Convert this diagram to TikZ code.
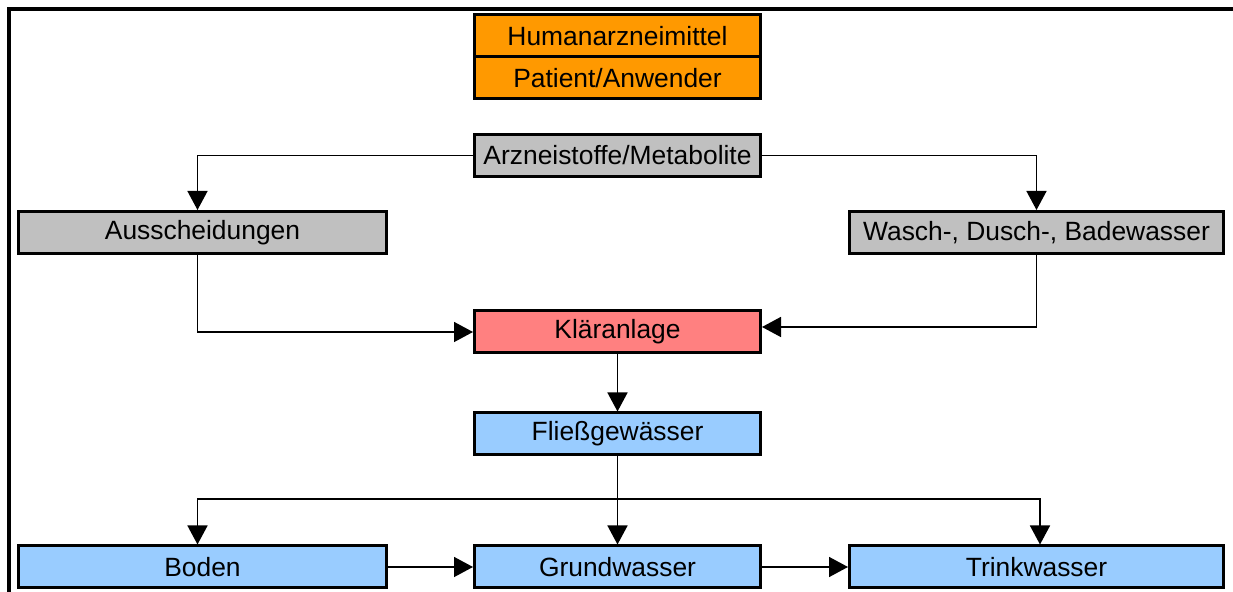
\documentclass[tikz,border=0pt]{standalone}
\usepackage{fontspec}
\setmainfont{Liberation Sans}
\usepackage{tikz}
\usetikzlibrary{arrows.meta}
\definecolor{boxorange}{HTML}{FF9900}
\definecolor{boxgrey}{HTML}{C0C0C0}
\definecolor{boxred}{HTML}{FF8080}
\definecolor{boxblue}{HTML}{99CCFF}
\tikzset{
	every box/.style={
		rectangle,
		draw,
		line width=1.5pt,
		inner sep=0pt,
		minimum width=143pt,
		minimum height=21pt,
		font=\fontsize{13.2}{15}\selectfont
	},
	box wide/.style={minimum width=184pt},
	box wider/.style={minimum width=187pt},
	box orange/.style={fill=boxorange},
	box grey/.style={fill=boxgrey},
	box red/.style={fill=boxred},
	box blue/.style={fill=boxblue},
	link/.style={line width=0.75pt},
}

\begin{document}
\begin{tikzpicture}[x=0.5pt, y=-0.5pt, >={Triangle[length=9.5pt,width=10pt]}]

\useasboundingbox (0,0) rectangle (1233,592);

% frame
\draw [line width=2pt] (9.3,592) -- (9.3,8.8) -- (1233,8.8);

\node [every box/.try, box orange] (human) at (617.5,36) {Humanarzneimittel};
\node [every box/.try, box orange] (patient) at (617.5,78) {Patient/Anwender};

\node [every box/.try, box grey] (arz) at (617.5,155.5) {Arzneistoffe/Metabolite};
\node [every box/.try, box grey, box wide] (aus) at (202.5,232.5) {Ausscheidungen};
\node [every box/.try, box grey, box wider] (wasch) at (1036.5,232.5) {Wasch-, Dusch-, Badewasser};

\node [every box/.try, box red] (klaer) at (617.5,332) {Kläranlage};
\node [every box/.try, box blue] (fliess) at (617.5,434) {Fließgewässer};

\foreach \n/\s/\x/\l in {boden/box wide/202.5/Boden, grund/box blue/617.5/Grundwasser, trink/box wider/1036.5/Trinkwasser}
	\node [every box/.try, box blue, \s] (\n) at (\x,567) {\l};

\draw [link, ->] (arz.west) -| ([xshift=-2.5pt]aus.north);
\draw [link, ->] (arz.east) -| (wasch.north);

\draw [link, ->] ([xshift=-2.5pt]aus.south) |- (klaer.west);
\draw [link, ->] (wasch.south) |- ([yshift=2.5pt]klaer.east);

\draw [link, ->] (klaer) -- (fliess);

\coordinate (split) at (617.5,499);
\draw [link] (fliess.south) -- (split);
\draw [link, ->] (split) -| ([xshift=-2.5pt]boden.north);
\draw [link, ->] (split) -- (grund.north);
\draw [link, ->] (split) -| ([xshift=1.75pt]trink.north);

\draw [link, ->] (boden) -- (grund);
\draw [link, ->] (grund) -- (trink);

\end{tikzpicture}
\end{document}
